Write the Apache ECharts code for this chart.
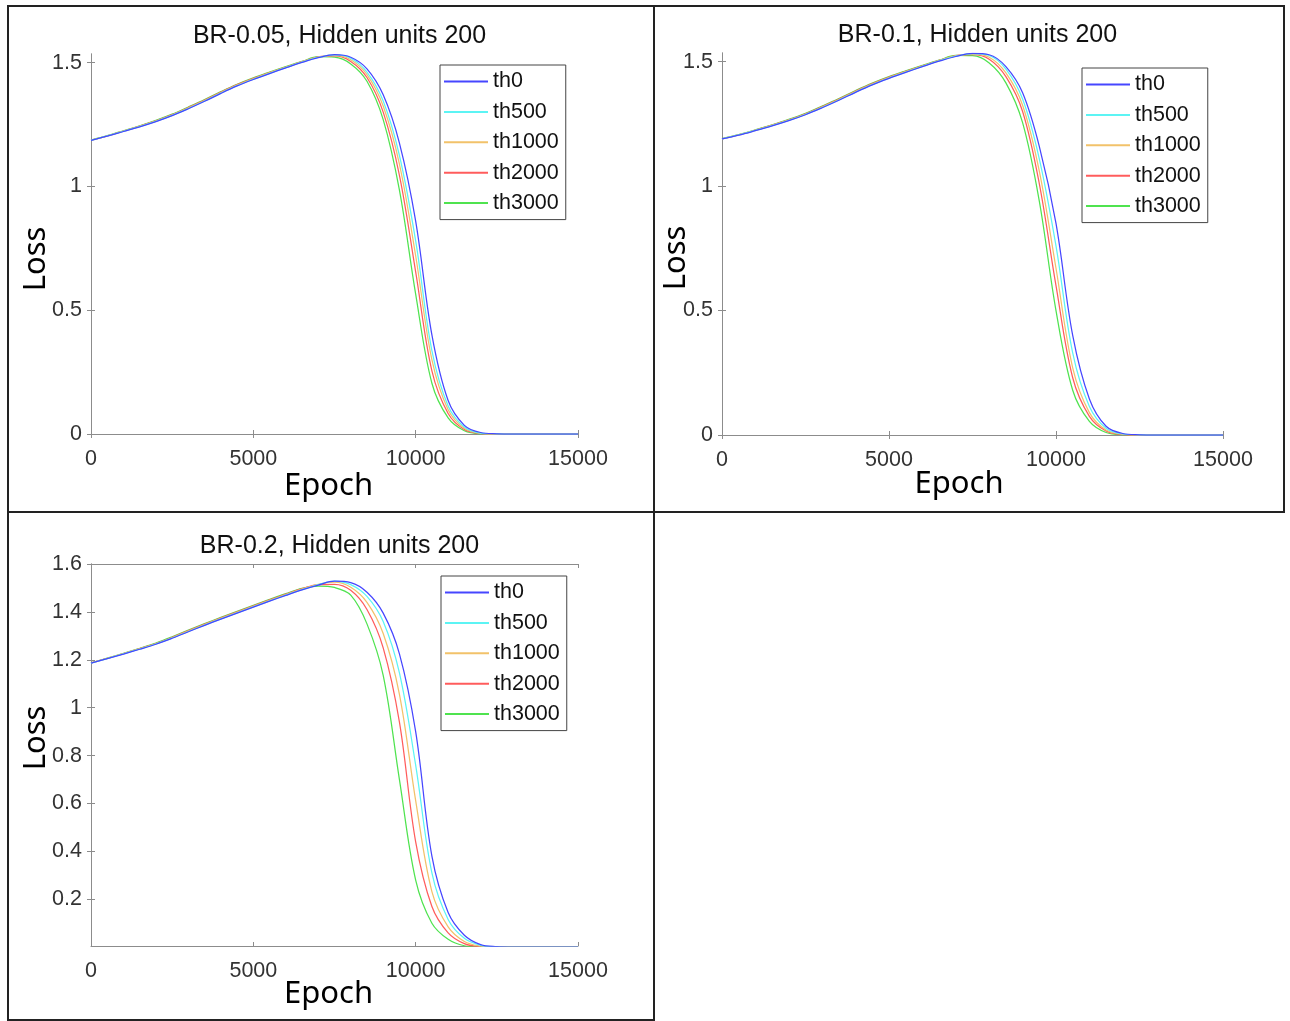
<!DOCTYPE html>
<html>
<head>
<meta charset="utf-8">
<script src="https://cdn.jsdelivr.net/npm/echarts@6/dist/echarts.min.js"></script>
<style>
html,body{margin:0;padding:0;background:#fff;}
#chart{width:1290px;height:1021px;}
</style>
</head>
<body>
<div id="chart"></div>
<script>
// ---------- data ----------
const EPOCHS = [0,500,1000,1500,2000,2500,3000,3500,4000,4500,5000,5500,6000,6500,7000,7500,8000,8500,9000,9500,10000,10500,11000,11500,12000,12500,13000,13500,14000,14500,15000];
const SERIES_NAMES = ['th0','th500','th1000','th2000','th3000'];
const TITLES = ['BR-0.05, Hidden units 200','BR-0.1, Hidden units 200','BR-0.2, Hidden units 200'];
const X_TICKS = [0,5000,10000,15000];
const Y_TICKS_A = [0,0.5,1,1.5];
const Y_TICKS_B = [0.2,0.4,0.6,0.8,1,1.2,1.4,1.6];

// Panel 1: BR-0.05
const P1_TH0    = [1.186,1.203,1.222,1.241,1.262,1.286,1.314,1.344,1.376,1.406,1.432,1.456,1.479,1.501,1.520,1.532,1.522,1.475,1.370,1.175,0.860,0.400,0.135,0.035,0.006,0.001,0,0,0,0,0];
const P1_TH500  = [1.186,1.204,1.223,1.242,1.263,1.287,1.315,1.345,1.377,1.407,1.433,1.457,1.480,1.502,1.521,1.531,1.518,1.462,1.345,1.125,0.780,0.337,0.113,0.028,0.004,0.001,0,0,0,0,0];
const P1_TH1000 = [1.186,1.204,1.223,1.243,1.264,1.288,1.317,1.347,1.379,1.409,1.435,1.459,1.481,1.503,1.522,1.529,1.512,1.452,1.325,1.090,0.720,0.300,0.098,0.023,0.003,0,0,0,0,0,0];
const P1_TH2000 = [1.186,1.204,1.224,1.244,1.265,1.290,1.319,1.349,1.381,1.411,1.437,1.460,1.482,1.504,1.523,1.527,1.505,1.440,1.300,1.045,0.655,0.255,0.083,0.018,0.002,0,0,0,0,0,0];
const P1_TH3000 = [1.187,1.205,1.225,1.245,1.267,1.292,1.321,1.351,1.383,1.413,1.439,1.462,1.484,1.505,1.524,1.522,1.495,1.425,1.270,0.985,0.565,0.205,0.065,0.013,0.001,0,0,0,0,0,0];

// Panel 2: BR-0.1
const P2_TH0    = [1.190,1.205,1.223,1.242,1.263,1.287,1.315,1.345,1.377,1.407,1.433,1.457,1.480,1.502,1.521,1.533,1.528,1.480,1.375,1.160,0.850,0.400,0.145,0.035,0.006,0.001,0,0,0,0,0];
const P2_TH500  = [1.190,1.206,1.224,1.243,1.264,1.288,1.316,1.346,1.378,1.408,1.434,1.458,1.481,1.503,1.522,1.532,1.525,1.470,1.350,1.110,0.760,0.330,0.115,0.027,0.004,0.001,0,0,0,0,0];
const P2_TH1000 = [1.190,1.206,1.224,1.244,1.265,1.289,1.318,1.348,1.380,1.410,1.436,1.460,1.482,1.504,1.523,1.530,1.518,1.455,1.325,1.060,0.670,0.270,0.090,0.020,0.003,0,0,0,0,0,0];
const P2_TH2000 = [1.190,1.206,1.225,1.245,1.266,1.291,1.320,1.350,1.382,1.412,1.438,1.461,1.483,1.505,1.524,1.528,1.510,1.440,1.300,1.010,0.600,0.230,0.075,0.016,0.002,0,0,0,0,0,0];
const P2_TH3000 = [1.191,1.207,1.226,1.246,1.268,1.293,1.322,1.352,1.384,1.414,1.440,1.463,1.485,1.506,1.525,1.524,1.495,1.415,1.255,0.940,0.500,0.180,0.055,0.010,0.001,0,0,0,0,0,0];

// Panel 3: BR-0.2
const P3_TH0    = [1.186,1.205,1.224,1.244,1.265,1.290,1.317,1.344,1.370,1.395,1.420,1.445,1.469,1.492,1.512,1.528,1.522,1.482,1.395,1.225,0.900,0.380,0.145,0.050,0.011,0.002,0,0,0,0,0];
const P3_TH500  = [1.186,1.205,1.225,1.245,1.266,1.291,1.318,1.345,1.371,1.396,1.421,1.446,1.470,1.493,1.514,1.529,1.514,1.465,1.360,1.145,0.760,0.310,0.116,0.037,0.008,0.001,0,0,0,0,0];
const P3_TH1000 = [1.186,1.206,1.226,1.246,1.267,1.292,1.320,1.347,1.373,1.398,1.423,1.448,1.472,1.495,1.515,1.524,1.503,1.440,1.310,1.056,0.612,0.232,0.085,0.024,0.0045,0,0,0,0,0,0];
const P3_TH2000 = [1.187,1.206,1.226,1.247,1.268,1.294,1.322,1.349,1.375,1.400,1.425,1.450,1.474,1.497,1.514,1.515,1.490,1.410,1.250,0.940,0.440,0.170,0.060,0.015,0.002,0,0,0,0,0,0];
const P3_TH3000 = [1.187,1.207,1.227,1.248,1.270,1.296,1.324,1.351,1.377,1.402,1.427,1.452,1.476,1.498,1.508,1.502,1.470,1.350,1.135,0.700,0.280,0.100,0.033,0.006,0.001,0,0,0,0,0,0];

const PANELS = [
  [P1_TH0,P1_TH500,P1_TH1000,P1_TH2000,P1_TH3000],
  [P2_TH0,P2_TH500,P2_TH1000,P2_TH2000,P2_TH3000],
  [P3_TH0,P3_TH500,P3_TH1000,P3_TH2000,P3_TH3000]
];

// ---------- styling / layout ----------
const COLORS = ['#4646ff','#5cf4f4','#f2c26a','#ff5c5c','#4fe34f'];
const GRIDS = [
  {left:91, top:54, width:487, height:380},
  {left:722, top:53, width:501, height:382},
  {left:91, top:564, width:487, height:382}
];
const Y_RANGES = [[0,1.535],[0,1.535],[0.005,1.6]];
const Y_TICKS = [Y_TICKS_A, Y_TICKS_A, Y_TICKS_B];
const LEGEND_POS = [{left:440, top:65},{left:1082, top:68},{left:441, top:576}];

const AX_COLOR = '#8c8c8c';
const LABEL_COLOR = '#333';
const TICK_FONT = 'Liberation Sans';

const option = {
  animation:false,
  backgroundColor:'#fff',
  title: GRIDS.map((g,i)=>({
    text: TITLES[i],
    left: g.left + g.width/2,
    top: g.top - 35,
    textAlign:'center',
    textStyle:{fontFamily:TICK_FONT, fontSize:25, fontWeight:'normal', color:'#111'}
  })),
  grid: GRIDS.map(g=>Object.assign({containLabel:false}, g)),
  xAxis: [],
  yAxis: [],
  legend: LEGEND_POS.map(p=>({
    data: SERIES_NAMES,
    orient:'vertical',
    left:p.left, top:p.top,
    icon:'rect',
    itemWidth:44, itemHeight:2, itemGap:8.4,
    padding:[5.5,7,5.5,4],
    borderColor:'#444', borderWidth:1, backgroundColor:'#fff',
    textStyle:{fontFamily:TICK_FONT, fontSize:21.5, color:'#111', lineHeight:21},
    selectedMode:false
  })),
  series: [],
  graphic: []
};

const plainNum = v => String(v);

GRIDS.forEach((g,i)=>{
  const lineAx = {show:true, lineStyle:{color:AX_COLOR, width:1}};
  option.xAxis.push({
    type:'value', gridIndex:i, position:'bottom', min:0, max:15000, interval:5000,
    axisLine:lineAx, splitLine:{show:false},
    axisTick:{show:true, inside:true, length:4, lineStyle:{color:AX_COLOR}, customValues:X_TICKS},
    axisLabel:{fontFamily:TICK_FONT, fontSize:21.5, color:LABEL_COLOR, margin:14, formatter:plainNum, customValues:X_TICKS}
  });
  option.xAxis.push({
    type:'value', gridIndex:i, position:'top', min:0, max:15000, interval:5000,
    axisLine:lineAx, splitLine:{show:false},
    axisTick:{show:true, inside:true, length:4, lineStyle:{color:AX_COLOR}, customValues:X_TICKS},
    axisLabel:{show:false}
  });
  option.yAxis.push({
    type:'value', gridIndex:i, position:'left', min:Y_RANGES[i][0], max:Y_RANGES[i][1],
    axisLine:lineAx, splitLine:{show:false},
    axisTick:{show:true, inside:true, length:4, lineStyle:{color:AX_COLOR}, customValues:Y_TICKS[i]},
    axisLabel:{fontFamily:TICK_FONT, fontSize:21.5, color:LABEL_COLOR, margin:9, formatter:plainNum, customValues:Y_TICKS[i]}
  });
  option.yAxis.push({
    type:'value', gridIndex:i, position:'right', min:Y_RANGES[i][0], max:Y_RANGES[i][1],
    axisLine:lineAx, splitLine:{show:false},
    axisTick:{show:true, inside:true, length:4, lineStyle:{color:AX_COLOR}, customValues:Y_TICKS[i]},
    axisLabel:{show:false}
  });
  PANELS[i].forEach((vals,k)=>{
    option.series.push({
      type:'line', name:SERIES_NAMES[k],
      xAxisIndex:i*2, yAxisIndex:i*2,
      data: EPOCHS.map((x,j)=>[x, vals[j]]),
      symbol:'none', smooth:0.35, clip:true,
      color: COLORS[k],
      lineStyle:{width:1.25, color:COLORS[k]},
      z: 10 - k
    });
  });
});

// panel frames
const FRAMES = [[8,6,646,506],[654,6,630,506],[8,512,646,508]];
FRAMES.forEach(f=>{
  option.graphic.push({type:'rect', shape:{x:f[0],y:f[1],width:f[2],height:f[3]},
    style:{fill:'none', stroke:'#222', lineWidth:2}, z:-1, silent:true});
});
// axis titles
const AXIS_NAME_FONT = '31px "Noto Sans"';
const EPOCH_POS = [[328.5,486],[959,484],[328.5,994]];
const LOSS_POS = [[36,259],[676,258],[36,738]];
EPOCH_POS.forEach(p=>{
  option.graphic.push({type:'text', x:p[0], y:p[1],
    style:{text:'Epoch', font:AXIS_NAME_FONT, fill:'#000', align:'center', verticalAlign:'middle'}});
});
LOSS_POS.forEach(p=>{
  option.graphic.push({type:'text', x:p[0], y:p[1], rotation:Math.PI/2,
    style:{text:'Loss', font:AXIS_NAME_FONT, fill:'#000', align:'center', verticalAlign:'middle'}});
});

const chart = echarts.init(document.getElementById('chart'), null, {renderer:'canvas'});
chart.setOption(option);
</script>
</body>
</html>
